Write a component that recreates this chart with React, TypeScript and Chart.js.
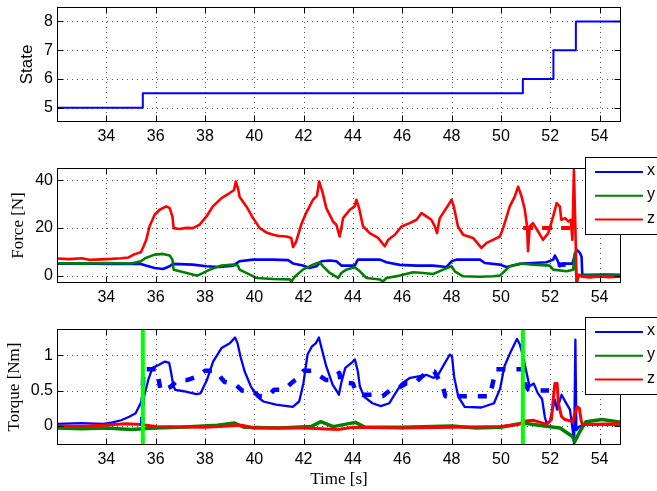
import React, { useEffect, useRef } from 'react';
import { Chart, registerables } from 'chart.js';
Chart.register(...registerables);

// ---------- axes ----------
const X_MIN = 32.0;
const X_MAX = 54.87;
const X_TICKS = [34, 36, 38, 40, 42, 44, 46, 48, 50, 52, 54];

const STATE_TICKS = [5, 6, 7, 8];
const STATE_RANGE = [4.5, 8.5];
const FORCE_TICKS = [0, 20, 40];
const FORCE_RANGE = [-3.1, 45.1];
const TORQUE_TICKS = [0, 0.5, 1];
const TORQUE_RANGE = [-0.27, 1.37];

// ---------- state ----------
const STATE_T = [32.0, 35.48, 50.89, 52.13, 53.04, 54.87];
const STATE_V = [5, 5.5, 6, 7, 8, 8];

// state transition markers (green lines in torque panel)
const MARK_T = [35.48, 50.89];

// ---------- force ----------
const FX_T = [32.0, 33.0, 34.0, 35.0, 35.4, 35.6, 35.96, 36.3, 36.57, 36.7, 37.5, 38.06, 38.6, 39.14, 39.4, 39.95, 40.76, 41.37, 41.57, 41.97, 42.24, 42.52, 42.72, 43.06, 43.33, 43.53, 44.07, 44.2, 45.1, 45.36, 45.9, 46.58, 47.25, 47.79, 48.0, 48.2, 49.15, 49.35, 49.96, 50.23, 50.5, 50.9, 51.3, 51.85, 52.12, 52.19, 52.28, 52.39, 52.5, 52.9, 53.0, 53.07, 53.2, 53.27, 53.3, 53.6, 54.2, 54.87];
const FX_V = [5.0, 5.1, 4.9, 5.0, 4.9, 4.2, 3.2, 2.8, 3.9, 4.9, 4.6, 3.9, 3.6, 4.2, 6.0, 6.7, 6.7, 6.5, 5.1, 4.2, 3.2, 3.9, 6.0, 6.3, 6.0, 4.2, 4.2, 6.7, 6.7, 5.6, 4.5, 4.2, 4.2, 3.6, 6.0, 6.7, 6.7, 5.3, 4.6, 3.6, 4.2, 5.1, 5.3, 5.6, 6.7, 8.4, 6.7, 3.9, 5.0, 5.0, 8.8, 10.9, 9.5, 8.0, 0.4, 0.3, 0.4, 0.3];

const FY_T = [32.0, 33.0, 34.0, 35.0, 35.4, 35.6, 35.96, 36.3, 36.57, 36.68, 36.73, 37.1, 37.65, 37.78, 38.2, 38.67, 39.14, 39.34, 39.4, 39.82, 40.09, 40.76, 41.44, 41.5, 41.64, 41.97, 42.38, 42.65, 42.79, 43.06, 43.4, 43.53, 43.73, 44.07, 44.28, 44.55, 45.1, 45.2, 45.36, 45.9, 46.44, 46.85, 47.25, 47.66, 48.0, 48.13, 48.47, 49.15, 49.68, 49.96, 50.36, 50.77, 51.3, 51.98, 52.12, 52.66, 52.93, 53.0, 53.07, 53.15, 54.87];
const FY_V = [5.2, 5.0, 5.3, 5.1, 6.0, 7.4, 8.8, 9.1, 8.4, 6.7, 2.5, 1.5, 0.0, 0.4, 2.5, 4.2, 4.6, 4.2, 2.5, 0.4, -1.0, -1.4, -1.6, -2.6, -0.5, 2.5, 4.6, 5.6, 3.9, 1.1, -1.0, 1.1, 2.5, 3.5, 1.8, -1.0, -1.6, -2.6, -1.0, 0.0, 1.4, 1.1, 0.7, 2.5, 3.9, 1.8, -0.3, -0.5, -0.3, 0.0, 3.9, 5.1, 4.6, 4.2, 2.5, 1.8, 2.5, 9.5, -3.0, 0.0, 0.0];

const FZ_T = [32.0, 32.5, 33.0, 33.3, 33.8, 34.2, 34.6, 34.9, 35.15, 35.4, 35.5, 35.62, 35.75, 35.96, 36.16, 36.43, 36.57, 36.68, 36.73, 36.97, 37.25, 37.51, 37.78, 38.06, 38.32, 38.67, 39.0, 39.18, 39.25, 39.34, 39.4, 39.68, 39.95, 40.22, 40.49, 40.76, 41.0, 41.3, 41.5, 41.57, 41.7, 41.9, 42.1, 42.38, 42.54, 42.63, 42.76, 42.92, 43.19, 43.33, 43.46, 43.53, 43.6, 43.87, 44.07, 44.14, 44.25, 44.41, 44.68, 45.02, 45.29, 45.43, 45.7, 45.97, 46.3, 46.58, 46.78, 46.98, 47.18, 47.32, 47.41, 47.52, 47.79, 48.0, 48.09, 48.26, 48.47, 48.87, 49.21, 49.42, 49.68, 49.96, 50.09, 50.36, 50.56, 50.7, 50.84, 50.97, 51.06, 51.1, 51.17, 51.3, 51.51, 51.71, 51.92, 52.12, 52.26, 52.39, 52.45, 52.6, 52.73, 52.83, 52.9, 52.96, 53.02, 53.07, 53.17, 53.3, 53.6, 54.0, 54.4, 54.87];
const FZ_V = [7.2, 6.9, 7.3, 6.6, 6.8, 7.0, 7.3, 7.6, 9.0, 9.8, 12.0, 15.0, 20.6, 25.5, 27.6, 29.0, 28.3, 24.8, 19.9, 19.5, 20.0, 19.9, 21.3, 24.8, 29.0, 32.5, 34.6, 35.9, 39.4, 36.6, 33.1, 29.0, 24.1, 19.9, 18.1, 17.1, 16.6, 16.4, 15.8, 12.0, 14.3, 21.3, 26.2, 31.8, 33.4, 39.4, 35.2, 28.3, 22.7, 21.3, 16.4, 19.9, 24.1, 27.6, 29.0, 31.8, 28.3, 20.6, 17.8, 15.8, 12.3, 15.0, 17.1, 20.6, 22.0, 23.4, 26.2, 24.8, 23.4, 20.6, 17.8, 24.1, 28.3, 31.8, 29.0, 20.6, 17.1, 15.8, 11.6, 13.7, 15.0, 16.4, 19.9, 29.0, 33.1, 37.3, 33.1, 27.6, 20.6, 10.2, 20.6, 22.0, 18.5, 15.0, 17.8, 24.8, 30.4, 29.0, 23.4, 24.1, 22.7, 23.4, 15.0, 44.3, 20.0, -3.0, 0.4, -0.5, -0.8, -0.4, -0.7, -0.5];

// force references (dashed)
const FZ_REF_T = [50.9, 52.8];
const FZ_REF_V = [20, 20];
const FX_REF_T = [52.3, 52.9];
const FX_REF_V = [4.6, 4.6];

// ---------- torque ----------
const TX_T = [32.0, 33.0, 33.9, 34.25, 34.6, 34.93, 35.19, 35.36, 35.53, 35.7, 35.87, 36.12, 36.38, 36.55, 36.63, 36.72, 36.8, 37.14, 37.65, 37.82, 38.08, 38.33, 38.67, 39.01, 39.22, 39.32, 39.44, 39.61, 39.86, 40.12, 40.37, 40.88, 41.56, 41.82, 41.99, 42.16, 42.33, 42.5, 42.62, 42.75, 42.92, 43.18, 43.35, 43.43, 43.52, 43.69, 43.94, 44.08, 44.2, 44.28, 44.45, 44.79, 45.13, 45.47, 45.72, 45.98, 46.32, 46.66, 47.0, 47.25, 47.42, 47.68, 47.93, 48.02, 48.1, 48.27, 48.53, 49.21, 49.72, 49.97, 50.14, 50.4, 50.65, 50.77, 50.9, 51.04, 51.16, 51.33, 51.5, 51.67, 51.78, 51.85, 51.98, 52.19, 52.28, 52.46, 52.6, 52.8, 52.91, 52.97, 53.02, 53.06, 53.18, 53.4, 54.87];
const TX_V = [0.03, 0.04, 0.03, 0.05, 0.08, 0.13, 0.18, 0.30, 0.415, 0.65, 0.82, 0.86, 0.91, 0.89, 0.75, 0.56, 0.51, 0.49, 0.45, 0.46, 0.65, 0.91, 1.10, 1.17, 1.25, 1.17, 0.98, 0.77, 0.56, 0.415, 0.345, 0.30, 0.27, 0.345, 0.60, 1.01, 1.12, 1.17, 1.25, 1.07, 0.84, 0.58, 0.49, 0.44, 0.60, 0.82, 0.89, 0.94, 0.77, 0.56, 0.415, 0.32, 0.28, 0.32, 0.46, 0.60, 0.68, 0.70, 0.72, 0.68, 0.70, 0.86, 1.01, 0.98, 0.70, 0.415, 0.27, 0.26, 0.32, 0.53, 0.84, 1.05, 1.23, 1.15, 0.98, 0.75, 0.56, 0.60, 0.46, 0.38, 0.13, 0.04, 0.06, 0.37, 0.23, 0.44, 0.35, 0.23, -0.06, -0.27, 1.22, -0.06, -0.01, 0.02, 0.02];

const TY_T = [32.0, 33.0, 34.0, 35.0, 36.0, 37.0, 38.5, 39.2, 39.6, 41.0, 42.3, 42.7, 43.2, 44.1, 44.5, 46.0, 48.0, 49.0, 50.0, 50.9, 51.76, 52.4, 52.9, 53.0, 53.2, 53.45, 54.1, 54.87];
const TY_V = [-0.03, -0.04, -0.03, -0.05, -0.03, -0.02, 0.01, 0.04, -0.02, -0.03, -0.01, 0.06, -0.01, 0.05, -0.02, -0.02, 0.0, -0.03, -0.02, 0.04, 0.0, -0.03, -0.15, -0.22, -0.08, 0.06, 0.09, 0.05];

const TZ_T = [32.0, 33.0, 34.8, 35.4, 36.0, 38.0, 39.5, 40.0, 42.0, 43.4, 44.0, 46.0, 48.0, 50.0, 50.7, 51.0, 51.3, 51.6, 51.85, 52.05, 52.12, 52.19, 52.28, 52.33, 52.46, 52.6, 52.91, 53.0, 53.1, 53.18, 53.25, 53.3, 54.87];
const TZ_V = [0.0, -0.01, 0.03, 0.02, -0.01, -0.02, 0.01, -0.03, -0.03, -0.05, -0.02, -0.03, -0.02, -0.01, 0.02, 0.07, 0.08, 0.05, 0.02, 0.09, 0.37, 0.60, 0.60, 0.32, 0.13, 0.09, 0.06, 0.18, 0.27, 0.25, 0.09, 0.02, 0.03];

// torque x reference (dashed)
const TX_REF_T = [35.45, 35.5, 36.05, 36.2, 36.6, 36.9, 37.3, 37.7, 38.0, 38.4, 38.8, 39.2, 39.5, 39.9, 40.2, 40.55, 40.8, 41.2, 41.55, 41.8, 42.0, 42.35, 42.9, 43.1, 43.45, 43.5, 44.0, 44.1, 44.4, 44.8, 45.05, 45.2, 45.6, 45.8, 46.15, 46.5, 46.8, 47.1, 47.3, 47.65, 47.75, 48.3, 48.7, 49.05, 49.55, 49.8, 50.2, 50.6, 50.9, 51.0, 51.1, 51.5, 51.95];
const TX_REF_V = [0.0, 0.8, 0.8, 0.5, 0.55, 0.65, 0.65, 0.7, 0.78, 0.78, 0.62, 0.6, 0.5, 0.5, 0.42, 0.42, 0.51, 0.51, 0.62, 0.68, 0.78, 0.78, 0.65, 0.65, 0.75, 0.62, 0.6, 0.5, 0.44, 0.44, 0.42, 0.42, 0.53, 0.53, 0.6, 0.6, 0.7, 0.77, 0.77, 0.55, 0.42, 0.42, 0.42, 0.42, 0.42, 0.8, 0.8, 0.8, 0.8, 0.58, 0.52, 0.5, 0.5];

const LEGEND_LABELS = ['x', 'y', 'z'];

const BLUE = '#0000ff';
const GREEN = '#008000';
const RED = '#ff0000';
const LIME = '#00ff00';

const SANS = "'Liberation Sans', Arial, sans-serif";
const SERIF = "'Liberation Serif', 'Times New Roman', serif";

const pts = (ts: number[], vs: number[]) => ts.map((t, i) => ({ x: t, y: vs[i] }));

const matlabPlugin = {
  id: 'matlab',
  beforeDatasetsDraw(chart: any) {
    const { ctx, chartArea: a, scales } = chart;
    const x = scales.x, y = scales.y;
    ctx.save();
    ctx.strokeStyle = '#505050';
    ctx.lineWidth = 1;
    ctx.setLineDash([1, 4]);
    x.ticks.forEach((t: any) => {
      const px = Math.round(x.getPixelForValue(t.value)) + 0.5;
      ctx.beginPath();
      ctx.moveTo(px, a.top);
      ctx.lineTo(px, a.bottom);
      ctx.stroke();
    });
    y.ticks.forEach((t: any) => {
      const py = Math.round(y.getPixelForValue(t.value)) + 0.5;
      ctx.beginPath();
      ctx.moveTo(a.left, py);
      ctx.lineTo(a.right, py);
      ctx.stroke();
    });
    ctx.restore();
  },
  afterDatasetsDraw(chart: any) {
    const { ctx, chartArea: a, scales } = chart;
    const x = scales.x, y = scales.y;
    const L = Math.round(a.left) + 0.5, R = Math.round(a.right) - 0.5;
    const T = Math.round(a.top) + 0.5, B = Math.round(a.bottom) - 0.5;
    ctx.save();
    ctx.strokeStyle = '#000';
    ctx.lineWidth = 1;
    ctx.setLineDash([]);
    ctx.strokeRect(L, T, R - L, B - T);
    const tl = 6;
    ctx.beginPath();
    x.ticks.forEach((t: any) => {
      const px = Math.round(x.getPixelForValue(t.value)) + 0.5;
      ctx.moveTo(px, B); ctx.lineTo(px, B - tl);
      ctx.moveTo(px, T); ctx.lineTo(px, T + tl);
    });
    y.ticks.forEach((t: any) => {
      const py = Math.round(y.getPixelForValue(t.value)) + 0.5;
      ctx.moveTo(L, py); ctx.lineTo(L + tl, py);
      ctx.moveTo(R, py); ctx.lineTo(R - tl, py);
    });
    ctx.stroke();
    ctx.restore();
  },
  afterDraw(chart: any, _args: any, opts: any) {
    if (!opts || !opts.legend) return;
    const { ctx } = chart;
    const lg = opts.legend;
    ctx.save();
    ctx.fillStyle = '#fff';
    ctx.fillRect(lg.left, lg.top, 120, lg.height);
    ctx.strokeStyle = '#000';
    ctx.lineWidth = 1;
    ctx.strokeRect(lg.left + 0.5, lg.top + 0.5, 120, lg.height);
    const items = chart.data.datasets.filter((d: any) => LEGEND_LABELS.includes(d.label));
    items.forEach((d: any, i: number) => {
      const ry = lg.top + lg.firstRow + i * lg.rowStep;
      ctx.strokeStyle = d.borderColor;
      ctx.lineWidth = 2;
      ctx.beginPath();
      ctx.moveTo(lg.left + 10, ry);
      ctx.lineTo(lg.left + 58, ry);
      ctx.stroke();
      ctx.fillStyle = '#000';
      ctx.font = `16px ${SANS}`;
      ctx.textBaseline = 'middle';
      ctx.textAlign = 'left';
      ctx.fillText(d.label, lg.left + 62, ry - 1);
    });
    ctx.restore();
  },
};

type PanelProps = {
  top: number;
  height: number;
  areaTop: number;
  areaBottom: number;
  range: number[];
  yTicks: number[];
  yTitle: string;
  yTitleFont: string;
  yTitleSize: number;
  yTitlePad: number;
  xTitle?: string;
  xTitlePad?: number;
  datasets: any[];
  legend?: any;
};

function Panel(p: PanelProps) {
  const ref = useRef<HTMLCanvasElement | null>(null);
  useEffect(() => {
    if (!ref.current) return;
    const xAxisH = p.height - p.areaBottom;
    const chart = new Chart(ref.current, {
      type: 'line',
      data: { datasets: p.datasets },
      options: {
        responsive: false,
        maintainAspectRatio: false,
        animation: false,
        devicePixelRatio: 1,
        layout: { padding: { left: 0, right: 657 - 621, top: p.areaTop, bottom: 0 } },
        elements: { point: { radius: 0 }, line: { tension: 0, borderJoinStyle: 'round' } },
        plugins: {
          legend: { display: false },
          tooltip: { enabled: false },
          matlab: { legend: p.legend },
        } as any,
        scales: {
          x: {
            type: 'linear',
            min: X_MIN,
            max: X_MAX,
            grid: { display: false, drawTicks: false },
            border: { display: false },
            afterBuildTicks: (s: any) => { s.ticks = X_TICKS.map((v) => ({ value: v })); },
            afterFit: (s: any) => {
              s.height = xAxisH;
              s.paddingLeft = 0; s.paddingRight = 0; s.paddingTop = 0; s.paddingBottom = 0;
            },
            ticks: {
              autoSkip: false, maxRotation: 0, minRotation: 0, padding: 5, color: '#000',
              font: { family: SANS, size: 16 },
              callback: (v: any) => String(v),
            },
            title: p.xTitle
              ? { display: true, text: p.xTitle, color: '#000', font: { family: SERIF, size: 17 }, padding: { top: 0, bottom: p.xTitlePad ?? 3 } }
              : { display: false },
          },
          y: {
            type: 'linear',
            min: p.range[0],
            max: p.range[1],
            grid: { display: false, drawTicks: false },
            border: { display: false },
            afterBuildTicks: (s: any) => { s.ticks = p.yTicks.map((v) => ({ value: v })); },
            afterFit: (s: any) => {
              s.width = 57;
              s.paddingLeft = 0; s.paddingRight = 0; s.paddingTop = 0; s.paddingBottom = 0;
            },
            ticks: {
              autoSkip: false, padding: 4, color: '#000',
              font: { family: SANS, size: 16 },
              callback: (v: any) => String(v),
            },
            title: {
              display: true, text: p.yTitle, color: '#000',
              font: { family: p.yTitleFont, size: p.yTitleSize },
              padding: { top: p.yTitlePad, bottom: 0 },
            },
          },
        },
      } as any,
      plugins: [matlabPlugin as any],
    });
    return () => chart.destroy();
  }, []);
  return (
    <canvas
      ref={ref}
      width={657}
      height={p.height}
      style={{ position: 'absolute', left: 0, top: p.top, width: 657, height: p.height }}
    />
  );
}

const line = (label: string, ts: number[], vs: number[], color: string, width: number, order: number, extra: any = {}) => ({
  label, data: pts(ts, vs), borderColor: color, backgroundColor: color, borderWidth: width,
  pointRadius: 0, fill: false, order, ...extra,
});

export default function App() {
  const stateSets = [line('State', STATE_T, STATE_V, BLUE, 2, 1, { stepped: true })];

  const forceSets = [
    line('x', FX_T, FX_V, BLUE, 2.6, 6),
    line('y', FY_T, FY_V, GREEN, 2.6, 5),
    line('z', FZ_T, FZ_V, RED, 2.6, 3),
    line('x ref', FX_REF_T, FX_REF_V, BLUE, 4.5, 4, { borderDash: [8, 8], borderCapStyle: 'butt' }),
    line('z ref', FZ_REF_T, FZ_REF_V, RED, 4, 2, { borderDash: [10, 9], borderCapStyle: 'butt' }),
  ];

  const torqueSets = [
    line('x', TX_T, TX_V, BLUE, 2.3, 6),
    line('y', TY_T, TY_V, GREEN, 3.5, 5),
    line('z', TZ_T, TZ_V, RED, 3, 4),
    line('x ref', TX_REF_T, TX_REF_V, BLUE, 4.5, 3, { borderDash: [9, 11], borderCapStyle: 'butt' }),
    ...MARK_T.map((t) => line('mark', [t, t], TORQUE_RANGE, LIME, 4, 1)),
  ];

  const legend = { left: 585, top: 7, height: 77, firstRow: 15, rowStep: 23.8 };

  return (
    <div style={{ position: 'fixed', left: 0, top: 0, width: 657, height: 491, background: '#fff', overflow: 'hidden' }}>
      <Panel top={0} height={150} areaTop={7} areaBottom={122} range={STATE_RANGE} yTicks={STATE_TICKS}
        yTitle="State" yTitleFont={SANS} yTitleSize={17} yTitlePad={17} datasets={stateSets} />
      <Panel top={150} height={160} areaTop={18} areaBottom={133} range={FORCE_RANGE} yTicks={FORCE_TICKS}
        yTitle="Force [N]" yTitleFont={SERIF} yTitleSize={17} yTitlePad={8} datasets={forceSets} legend={legend} />
      <Panel top={310} height={181} areaTop={19} areaBottom={135} range={TORQUE_RANGE} yTicks={TORQUE_TICKS}
        yTitle="Torque [Nm]" yTitleFont={SERIF} yTitleSize={17} yTitlePad={4} xTitle="Time [s]" xTitlePad={1}
        datasets={torqueSets} legend={legend} />
    </div>
  );
}
